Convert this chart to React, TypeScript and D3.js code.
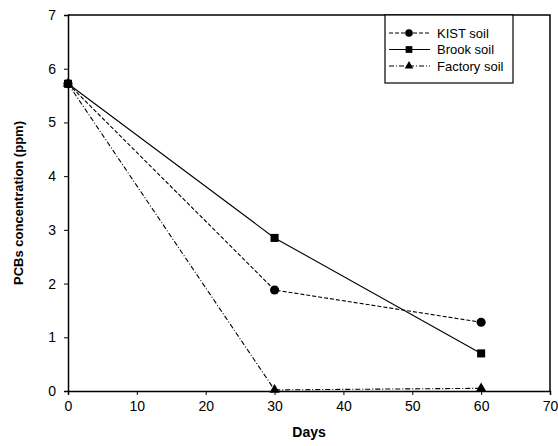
import React, { useEffect, useRef } from 'react';
import { select, scaleLinear, axisBottom, axisLeft, line, symbol, symbolCircle, symbolSquare, symbolTriangle } from 'd3';

const days = [0, 30, 60];
const kistSoil = [5.72, 1.88, 1.28];
const brookSoil = [5.72, 2.85, 0.7];
const factorySoil = [5.72, 0.02, 0.05];
const xTicks = [0, 10, 20, 30, 40, 50, 60, 70];
const yTicks = [0, 1, 2, 3, 4, 5, 6, 7];

const seriesList = [
  { name: 'KIST soil', values: kistSoil, dash: '4,2', shape: symbolCircle, size: 65 },
  { name: 'Brook soil', values: brookSoil, dash: null, shape: symbolSquare, size: 65 },
  { name: 'Factory soil', values: factorySoil, dash: '5,2,1,2', shape: symbolTriangle, size: 45 },
];

const App = () => {
  const svgRef = useRef<SVGSVGElement>(null);

  useEffect(() => {
    const w = 558;
    const h = 446;
    const left = 68, right = 550, top = 15, bottom = 391;

    const svg = select(svgRef.current);
    svg.selectAll('*').remove();
    svg.attr('width', w).attr('height', h).style('background', '#fff');

    const x = scaleLinear().domain([0, 70]).range([left, right]);
    const y = scaleLinear().domain([0, 7]).range([bottom, top]);

    const font = 'Arial, "Liberation Sans", sans-serif';

    // frame
    svg.append('path')
      .attr('d', `M${left},${top}H${right}V${bottom}`)
      .attr('fill', 'none')
      .attr('stroke', '#000')
      .attr('stroke-width', 1.5);

    const gx = svg.append('g')
      .attr('transform', `translate(0,${bottom})`)
      .call(axisBottom(x).tickValues(xTicks).tickFormat(d => String(d)).tickSize(4).tickPadding(6));
    gx.select('.domain').attr('stroke-width', 1.5);
    gx.selectAll('text').attr('font-family', font).attr('font-size', 14).attr('fill', '#000');

    const gy = svg.append('g')
      .attr('transform', `translate(${left},0)`)
      .call(axisLeft(y).tickValues(yTicks).tickFormat(d => String(d)).tickSize(4).tickPadding(8));
    gy.select('.domain').attr('stroke-width', 1.5);
    gy.selectAll('text').attr('font-family', font).attr('font-size', 14).attr('fill', '#000');

    svg.append('text')
      .attr('x', x(35)).attr('y', 437)
      .attr('text-anchor', 'middle')
      .attr('font-family', font).attr('font-size', 14).attr('font-weight', 'bold')
      .text('Days');

    svg.append('text')
      .attr('transform', `translate(23,${(top + bottom) / 2}) rotate(-90)`)
      .attr('text-anchor', 'middle')
      .attr('font-family', font).attr('font-size', 13).attr('font-weight', 'bold')
      .text('PCBs concentration (ppm)');

    const gen = line<number>()
      .x((d, i) => x(days[i]))
      .y(d => y(d));

    seriesList.forEach(s => {
      svg.append('path')
        .attr('d', gen(s.values))
        .attr('fill', 'none')
        .attr('stroke', '#000')
        .attr('stroke-width', 1.1)
        .attr('stroke-dasharray', s.dash);
      svg.selectAll(null)
        .data(s.values)
        .join('path')
        .attr('transform', (d, i) => `translate(${x(days[i])},${y(d)})`)
        .attr('d', symbol(s.shape, s.size) as any)
        .attr('fill', '#000');
    });

    // legend
    const lg = svg.append('g');
    lg.append('rect')
      .attr('x', 385).attr('y', top).attr('width', 128).attr('height', 68)
      .attr('fill', '#fff').attr('stroke', '#000').attr('stroke-width', 1.2);
    seriesList.forEach((s, i) => {
      const ly = 33 + i * 16.5;
      lg.append('line')
        .attr('x1', 389).attr('x2', 430).attr('y1', ly).attr('y2', ly)
        .attr('stroke', '#000').attr('stroke-width', 1)
        .attr('stroke-dasharray', s.dash);
      lg.append('path')
        .attr('transform', `translate(409,${ly})`)
        .attr('d', symbol(s.shape, s.size * 0.7)() as any)
        .attr('fill', '#000');
      lg.append('text')
        .attr('x', 437).attr('y', ly + 4.5)
        .attr('font-family', font).attr('font-size', 13)
        .text(s.name);
    });
  }, []);

  return <svg ref={svgRef} style={{ position: 'absolute', left: 0, top: 0 }}></svg>;
};

export default App;
